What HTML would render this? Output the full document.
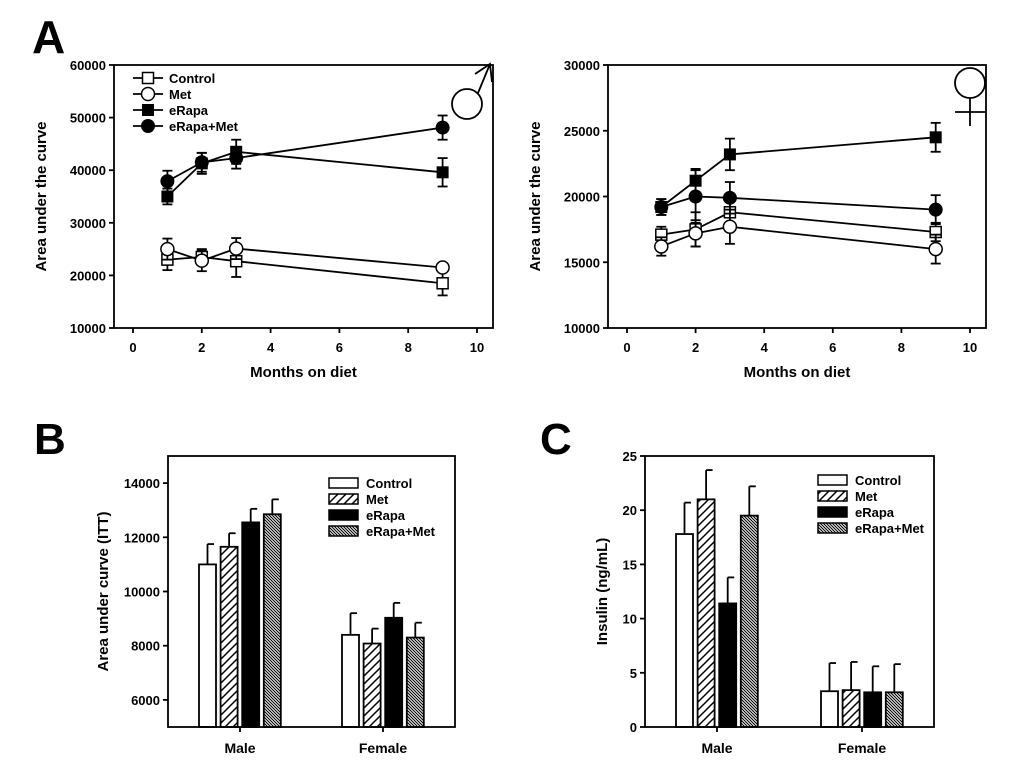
<!DOCTYPE html>
<html><head><meta charset="utf-8"><style>
body{margin:0;background:#fff}
svg{display:block;font-family:"Liberation Sans",Arial,sans-serif;font-weight:bold}
</style></head><body>
<svg id="s" width="1020" height="781">
<defs>
<pattern id="hMet" patternUnits="userSpaceOnUse" width="8" height="8"><rect width="8" height="8" fill="#fff"/><path d="M-2,10 L10,-2 M-2,2 L2,-2 M6,10 L10,6" stroke="#000" stroke-width="1.5"/></pattern>
<pattern id="hCom" patternUnits="userSpaceOnUse" width="3" height="3"><rect width="3" height="3" fill="#fff"/><path d="M0,0 L3,3 M-1,2 L1,4 M2,-1 L4,1" stroke="#000" stroke-width="1.1"/></pattern>
</defs>
<text x="32" y="53" font-size="46">A</text>
<text x="34" y="454" font-size="44">B</text>
<text x="540" y="454" font-size="44">C</text>
</svg>
<script>
const months=[1,2,3,9];
const seriesNames=["Control","Met","eRapa","eRapa+Met"];
const maleCtrl=[23000,23500,22700,18500], maleCtrlErr=[2000,1500,3000,2300];
const maleMet=[25000,22800,25100,21500], maleMetErr=[2000,2000,2000,600];
const maleRapa=[35000,41300,43500,39600], maleRapaErr=[1500,2000,2300,2700];
const maleCombo=[37900,41500,42300,48100], maleComboErr=[2000,1800,2000,2300];
const femCtrl=[17100,17500,18800,17300], femCtrlErr=[600,1300,900,700];
const femMet=[16200,17200,17700,16000], femMetErr=[700,1000,1300,1100];
const femRapa=[19200,21200,23200,24500], femRapaErr=[600,900,1200,1100];
const femCombo=[19200,20000,19900,19000], femComboErr=[600,2000,1200,1100];
const groups=["Male","Female"];
const ittVals=[[11000,11650,12550,12850],[8400,8080,9030,8300]];
const ittErr=[[750,500,500,550],[800,550,550,550]];
const insVals=[[17.8,21.0,11.4,19.5],[3.3,3.4,3.2,3.2]];
const insErr=[[2.9,2.7,2.4,2.7],[2.6,2.6,2.4,2.6]];
const xTicks=[0,2,4,6,8,10];
const yTicksAL=[10000,20000,30000,40000,50000,60000];
const yTicksAR=[10000,15000,20000,25000,30000];
const yTicksB=[6000,8000,10000,12000,14000];
const yTicksC=[0,5,10,15,20,25];

const S=document.getElementById('s');
function el(t,a,p){const e=document.createElementNS('http://www.w3.org/2000/svg',t);for(const k in a)e.setAttribute(k,a[k]);(p||S).appendChild(e);return e;}
function txt(x,y,s,sz,anchor,p){const e=el('text',{x:x,y:y,'font-size':sz,'text-anchor':anchor||'start'},p);e.textContent=s;return e;}
function lin(a,b,c,d,w,p){return el('line',{x1:a,y1:b,x2:c,y2:d,stroke:'#000','stroke-width':w||1.8},p);}
function marker(g,type,x,y){
 if(type==0)el('rect',{x:x-5.5,y:y-5.5,width:11,height:11,fill:'#fff',stroke:'#000','stroke-width':1.5},g);
 if(type==1)el('circle',{cx:x,cy:y,r:6.5,fill:'#fff',stroke:'#000','stroke-width':1.5},g);
 if(type==2)el('rect',{x:x-6,y:y-6,width:12,height:12,fill:'#000'},g);
 if(type==3)el('circle',{cx:x,cy:y,r:7,fill:'#000'},g);
}
function lineChart(name,L,R,T,B,ymin,ymax,yt,series,errs,legend){
 const g=el('g',{});
 const sx=v=>L+19+(v/10)*(R-L-35), sy=v=>B-(v-ymin)/(ymax-ymin)*(B-T);
 el('rect',{x:L,y:T,width:R-L,height:B-T,fill:'none',stroke:'#000','stroke-width':1.8},g);
 yt.forEach(v=>{lin(L-5,sy(v),L,sy(v),1.8,g);const t=txt(L-8,sy(v)+5,String(v),13,'end',g);});
 xTicks.forEach(v=>{lin(sx(v),B,sx(v),B+5,1.8,g);const t=txt(sx(v),B+24,String(v),13,'middle',g);});
 const xt=txt((L+R)/2,B+49,'Months on diet',15,'middle',g);
 const yl=txt(0,0,'Area under the curve',15,'middle',g);yl.setAttribute('transform',`translate(${L-68},${(T+B)/2}) rotate(-90)`);
 series.forEach((sr,i)=>{
  const sg=el('g',{},g);
  el('polyline',{points:sr.map((v,j)=>sx(months[j])+','+sy(v)).join(' '),fill:'none',stroke:'#000','stroke-width':1.8},sg);
  sr.forEach((v,j)=>{const x=sx(months[j]),e=errs[i][j];lin(x,sy(v-e),x,sy(v+e),1.8,sg);lin(x-5,sy(v-e),x+5,sy(v-e),1.8,sg);lin(x-5,sy(v+e),x+5,sy(v+e),1.8,sg);});
  sr.forEach((v,j)=>marker(sg,i,sx(months[j]),sy(v)));
 });
 if(legend){seriesNames.forEach((n,i)=>{const lg=el('g',{},g);const y=78+i*16;lin(133,y,163,y,1.8,lg);marker(lg,i,148,y);txt(169,y+5,n,13,'start',lg);});}
}
lineChart('male-auc-chart',114,493,65,328,10000,60000,yTicksAL,[maleCtrl,maleMet,maleRapa,maleCombo],[maleCtrlErr,maleMetErr,maleRapaErr,maleComboErr],true);
lineChart('female-auc-chart',608,986,65,328,10000,30000,yTicksAR,[femCtrl,femMet,femRapa,femCombo],[femCtrlErr,femMetErr,femRapaErr,femComboErr],false);
const ms=el('g',{fill:'none',stroke:'#000','stroke-width':1.8});
el('circle',{cx:467,cy:104,r:15},ms);el('path',{d:'M478,93 L490,64 M475,74 L490,64 L492,82'},ms);
const fs=el('g',{fill:'none',stroke:'#000','stroke-width':1.8});
el('circle',{cx:970,cy:83,r:15},fs);el('path',{d:'M970,98 L970,126 M955,112 L985,112'},fs);

const fills=['#fff','url(#hMet)','#000','url(#hCom)'];
function barChart(name,L,R,T,B,ymin,ymax,yt,vals,errs,centers,title,titleX,legX,legY){
 const g=el('g',{});
 const sy=v=>B-(v-ymin)/(ymax-ymin)*(B-T);
 yt.forEach(v=>{lin(L-5,sy(v),L,sy(v),1.8,g);const t=txt(L-8,sy(v)+5,String(v),13,'end',g);});
 vals.forEach((gr,gi)=>{
  lin(centers[gi],B,centers[gi],B+5,1.8,g);
  const t=txt(centers[gi],B+26,groups[gi],14,'middle',g);
  gr.forEach((v,i)=>{const x=centers[gi]-41+i*21.6;const bg=el('g',{},g);
   const top=sy(v),et=sy(v+errs[gi][i]);lin(x+8.5,top,x+8.5,et,1.8,bg);lin(x+8.5,et,x+15,et,1.8,bg);
   el('rect',{x:x,y:top,width:17,height:B-top,fill:fills[i],stroke:'#000','stroke-width':1.8},bg);});
 });
 el('rect',{x:L,y:T,width:R-L,height:B-T,fill:'none',stroke:'#000','stroke-width':1.8},g);
 const yl=txt(0,0,title,15,'middle',g);yl.setAttribute('transform',`translate(${titleX},${(T+B)/2}) rotate(-90)`);
 seriesNames.forEach((n,i)=>{const lg=el('g',{},g);const y=legY+i*16;el('rect',{x:legX,y:y-5,width:29,height:10,fill:fills[i],stroke:'#000','stroke-width':1.5},lg);txt(legX+37,y+5,n,13,'start',lg);});
}
barChart('itt-bar-chart',168,455,456,727,5000,15000,yTicksB,ittVals,ittErr,[240,383],'Area under curve (ITT)',108,329,483);
barChart('insulin-bar-chart',645,934,456,727,0,25,yTicksC,insVals,insErr,[717,862],'Insulin (ng/mL)',607,818,480);
</script>
</body></html>
